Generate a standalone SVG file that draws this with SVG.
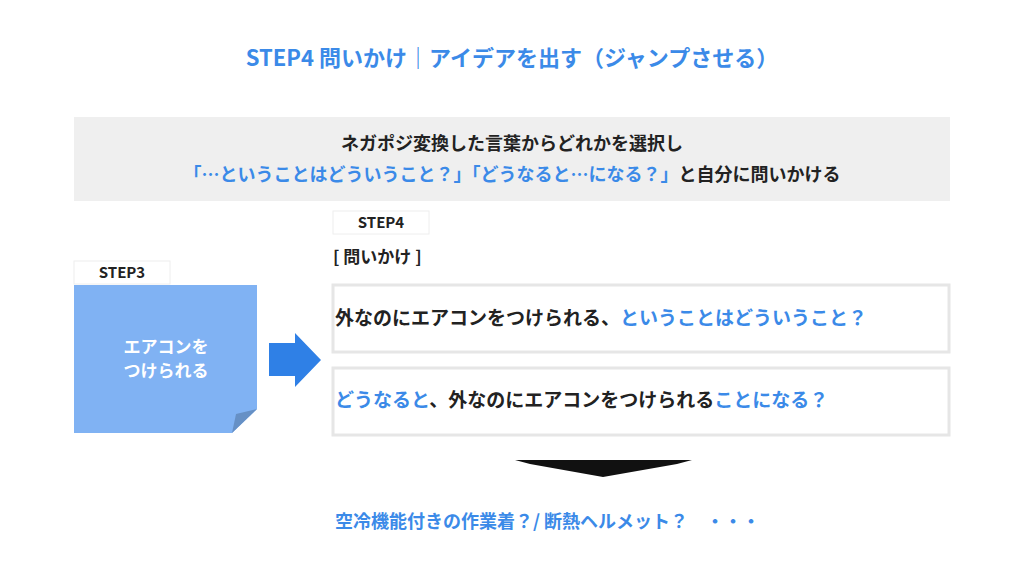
<svg xmlns="http://www.w3.org/2000/svg" width="1024" height="576" viewBox="0 0 1024 576">
<style>
text{font-family:"Noto Sans CJK JP","Noto Sans",sans-serif;font-weight:bold}
.b{fill:#3b8ae8}.k{fill:#222}
.box{fill:#fff;stroke:#e6e6e6;stroke-width:3}
</style>
<rect width="1024" height="576" fill="#fff"/>
<text x="512" y="66" text-anchor="middle" font-size="22" class="b">STEP4 問いかけ｜アイデアを出す（ジャンプさせる）</text>
<g id="intro">
<rect x="74" y="117" width="876" height="84" fill="#efefef"/>
<text x="512" y="150" text-anchor="middle" font-size="18" class="k">ネガポジ変換した言葉からどれかを選択し</text>
<text x="512" y="181" text-anchor="middle" font-size="18" class="k"><tspan class="b">「…ということはどういうこと？」「どうなると…になる？」</tspan>と自分に問いかける</text>
</g>
<g id="step3">
<rect x="74" y="261" width="96" height="23" fill="#fff" stroke="#eee"/>
<text x="122" y="278" text-anchor="middle" font-size="15" class="k">STEP3</text>
<path d="M74 285H257V409L232 433H74Z" fill="#80b2f3"/>
<path d="M232 433L236 414L257 409Z" fill="#6690c5"/>
<text x="166" y="353" text-anchor="middle" font-size="17" fill="#fff">エアコンを</text>
<text x="166" y="377" text-anchor="middle" font-size="17" fill="#fff">つけられる</text>
</g>
<g id="connectors">
<path d="M269 343H295V333L321 360L295 387V376H269Z" fill="#2f80e6"/>
<path d="M515 460H692L677 464L603 477L530 464Z" fill="#111"/>
</g>
<g id="step4">
<rect x="333" y="211" width="96" height="23" fill="#fff" stroke="#eee"/>
<text x="381" y="228" text-anchor="middle" font-size="15" class="k">STEP4</text>
<text x="333" y="263" font-size="17" class="k">[ 問いかけ ]</text>
<rect class="box" x="333" y="285" width="616" height="67"/>
<text x="335" y="325" font-size="19" class="k">外なのにエアコンをつけられる、<tspan class="b">ということはどういうこと？</tspan></text>
<rect class="box" x="333" y="368" width="616" height="67"/>
<text x="335" y="407" font-size="19" class="b">どうなると<tspan class="k">、外なのにエアコンをつけられる</tspan>ことになる？</text>
</g>
<text x="335" y="528" font-size="18" class="b">空冷機能付きの作業着？/ 断熱ヘルメット？　・・・</text>
</svg>
